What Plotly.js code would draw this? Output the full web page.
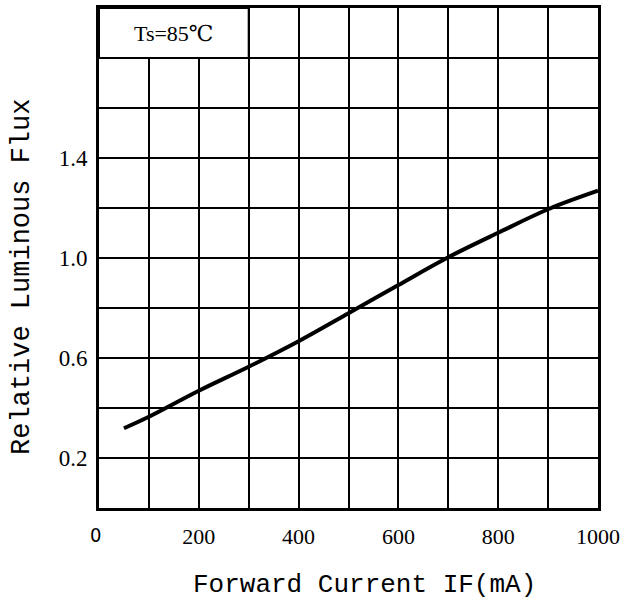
<!DOCTYPE html>
<html>
<head>
<meta charset="utf-8">
<script src="https://cdn.plot.ly/plotly-3.0.1.min.js"></script>
<style>html,body{margin:0;padding:0;background:#fff;}#chart{width:628px;height:600px;}</style>
</head>
<body>
<div id="chart"></div>
<script>
// Data
const currentMA = [50, 100, 200, 300, 400, 500, 600, 700, 800, 900, 1000];
const relativeFlux = [0.319, 0.365, 0.469, 0.565, 0.667, 0.779, 0.892, 1.003, 1.101, 1.195, 1.269];

const xTickVals = [0, 100, 200, 300, 400, 500, 600, 700, 800, 900, 1000];
const xTickText = ['', '', '200', '', '400', '', '600', '', '800', '', '1000'];
const yTickVals = [0, 0.2, 0.4, 0.6, 0.8, 1.0, 1.2, 1.4, 1.6, 1.8, 2.0];
const yTickText = ['', '0.2', '', '0.6', '', '1.0', '', '1.4', '', '', ''];
const conditionLabel = 'Ts=85℃';
const originLabel = '0';
const xTitle = 'Forward Current IF(mA)';
const yTitle = 'Relative Luminous Flux';

const serif = 'Liberation Serif, DejaVu Serif, serif';
const mono = 'Liberation Mono, DejaVu Sans Mono, monospace';

const trace = {
  x: currentMA,
  y: relativeFlux,
  type: 'scatter',
  mode: 'lines',
  line: {color: '#000', width: 4, shape: 'spline', smoothing: 1},
  hoverinfo: 'skip'
};

const layout = {
  width: 628,
  height: 600,
  margin: {l: 99, r: 30, t: 8, b: 92},
  paper_bgcolor: '#fff',
  plot_bgcolor: '#fff',
  showlegend: false,
  xaxis: {
    range: [0, 1000],
    tickvals: xTickVals,
    ticktext: xTickText,
    showgrid: true,
    gridcolor: '#000',
    gridwidth: 2,
    zeroline: false,
    showline: true,
    mirror: true,
    linecolor: '#000',
    linewidth: 3,
    ticks: '',
    ticklabelstandoff: 7,
    tickfont: {family: serif, size: 22, color: '#000'},
    fixedrange: true
  },
  yaxis: {
    range: [0, 2.0],
    tickvals: yTickVals,
    ticktext: yTickText,
    showgrid: true,
    gridcolor: '#000',
    gridwidth: 2,
    zeroline: false,
    showline: true,
    mirror: true,
    linecolor: '#000',
    linewidth: 3,
    ticks: '',
    ticklabelstandoff: 4,
    tickfont: {family: serif, size: 23, color: '#000'},
    fixedrange: true
  },
  shapes: [
    {type: 'rect', xref: 'x', yref: 'y', x0: 0, x1: 300, y0: 1.8, y1: 2.0,
     fillcolor: '#fff', line: {color: '#000', width: 2}, layer: 'above'}
  ],
  annotations: [
    {x: 150, y: 1.9, xref: 'x', yref: 'y', text: conditionLabel, showarrow: false,
     font: {family: serif, size: 22, color: '#000'}},
    {x: 0, y: 0, xref: 'x', yref: 'y', text: originLabel, showarrow: false,
     xshift: -4, yshift: -27,
     font: {family: 'DejaVu Sans Condensed, DejaVu Sans, sans-serif', size: 20, color: '#000'}},
    {x: 364, y: 585, text: xTitle, showarrow: false,
     font: {family: mono, size: 26, color: '#000'}},
    {x: 22, y: 277, text: yTitle, showarrow: false, textangle: -90,
     font: {family: mono, size: 27, color: '#000'}}
  ]
};
// convert the two title annotations from pixel positions to paper coordinates
const plotW = layout.width - layout.margin.l - layout.margin.r;
const plotH = layout.height - layout.margin.t - layout.margin.b;
[layout.annotations[2], layout.annotations[3]].forEach(a => {
  a.xref = 'paper'; a.yref = 'paper';
  a.x = (a.x - layout.margin.l) / plotW;
  a.y = (layout.height - layout.margin.b - a.y) / plotH;
  a.xanchor = 'center'; a.yanchor = 'middle';
});

Plotly.newPlot('chart', [trace], layout, {staticPlot: true, displayModeBar: false});
</script>
</body>
</html>
